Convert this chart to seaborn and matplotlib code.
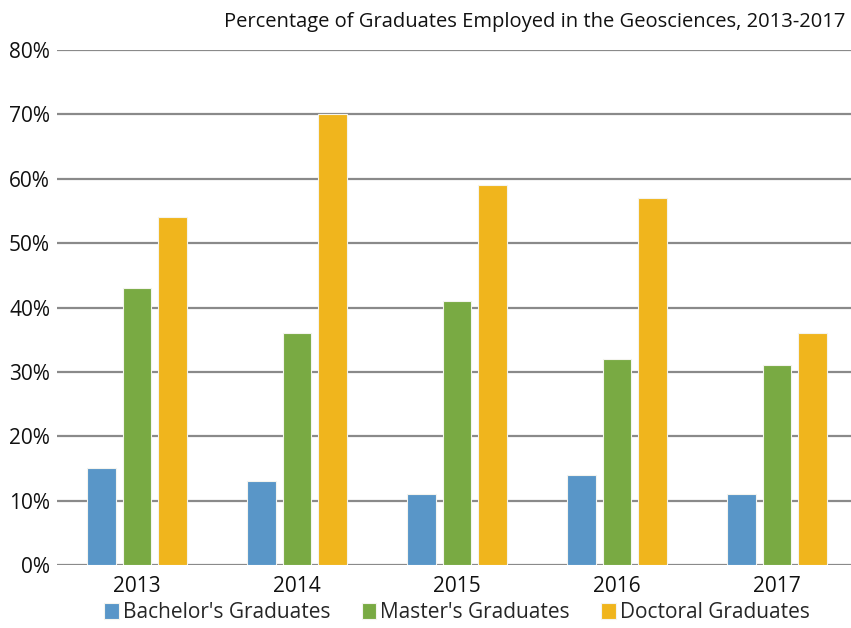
import numpy as np
import pandas as pd
from matplotlib import pyplot as plt
from matplotlib.ticker import PercentFormatter
import seaborn as sns

years = ["2013", "2014", "2015", "2016", "2017"]
bachelors = [0.15, 0.13, 0.11, 0.14, 0.11]
masters = [0.43, 0.36, 0.41, 0.32, 0.31]
doctoral = [0.54, 0.70, 0.59, 0.57, 0.36]
series_names = ["Bachelor's Graduates", "Master's Graduates", "Doctoral Graduates"]
colors = ["#5996C8", "#79AA43", "#F0B51D"]

df = pd.DataFrame({
    "year": years * 3,
    "value": bachelors + masters + doctoral,
    "degree": np.repeat(series_names, len(years)),
})

sns.set_style("white")
plt.rcParams['font.family'] = ['Open Sans', 'DejaVu Sans']

fig = plt.figure(figsize=(8.51, 6.28), dpi=100)
ax = fig.add_axes([57 / 851, 1 - 565 / 628, 800 / 851, 515 / 628])

sns.barplot(data=df, x="year", y="value", hue="degree", palette=colors,
            saturation=1, width=0.67, gap=0.2, edgecolor="#f4f4ee",
            linewidth=0.8, ax=ax, zorder=3)

ax.set_ylim(0, 0.8)
ax.set_xlim(-0.5, 4.5)
ax.set_yticks(np.arange(0, 0.81, 0.1))
ax.yaxis.set_major_formatter(PercentFormatter(1.0, decimals=0))
ax.grid(axis="y", color="#8a8a8a", linewidth=1.6, zorder=0)
ax.set_axisbelow(True)
for s in ax.spines.values():
    s.set_visible(False)
ax.tick_params(axis="both", length=0, labelsize=15, colors="#111111")
ax.tick_params(axis="y", pad=5)
ax.tick_params(axis="x", pad=8)
ax.set_xlabel("")
ax.set_ylabel("")

fig.text(845 / 851, 1 - 22 / 628, "Percentage of Graduates Employed in the Geosciences, 2013-2017",
         ha="right", va="center", fontsize=14.5, color="#111111")

ax.legend(loc="center", bbox_to_anchor=(0.5, -0.092),
          ncol=3, frameon=False, fontsize=15, handlelength=0.7, handleheight=0.8,
          handletextpad=0.2, columnspacing=1.5, borderaxespad=0)

plt.savefig("out.png", dpi=100)
